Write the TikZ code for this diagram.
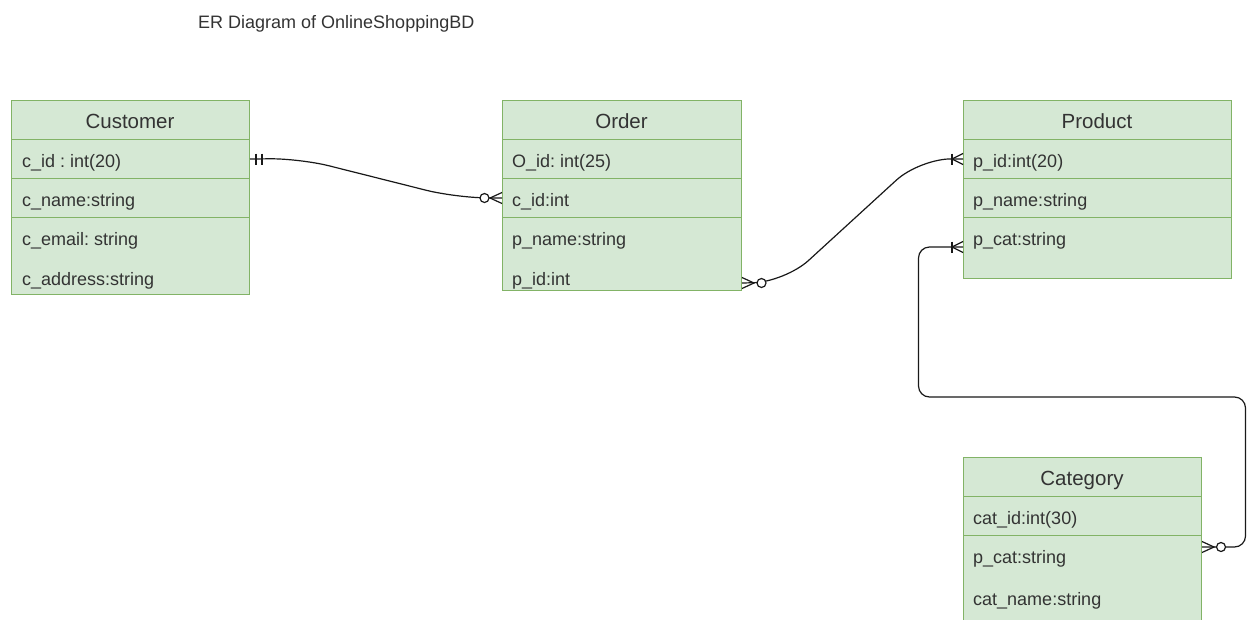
\documentclass[tikz,border=0pt]{standalone}
\usepackage{fontspec}
\setmainfont{Liberation Sans}
\usetikzlibrary{calc}
\definecolor{fillg}{HTML}{D5E8D4}
\definecolor{bordg}{HTML}{82B366}
\definecolor{txt}{HTML}{333333}
\frenchspacing
\begin{document}
\begin{tikzpicture}[x=1pt,y=-1pt,
  cell/.style={draw=bordg, fill=fillg, line width=1pt, anchor=north west, inner sep=0pt, minimum height=39pt},
  hdrtxt/.style={text=txt, font=\fontsize{20.5}{24}\selectfont, anchor=base, inner sep=0pt},
  fldtxt/.style={text=txt, font=\fontsize{18}{21}\selectfont, anchor=base west, inner sep=0pt},
  conn/.style={draw=black!90, line width=1.2pt},
  circmark/.style={draw=black!90, line width=1.2pt, fill=white}
]
\clip (0,0) rectangle (1250,619);

% title
\node[fldtxt] (title) at (198,28) {ER Diagram of OnlineShoppingBD};

% Customer
\node[cell, minimum width=238pt] (cust-h) at (11,100) {};
\node[cell, minimum width=238pt] (cust-id) at (11,139) {};
\node[cell, minimum width=238pt] (cust-name) at (11,178) {};
\node[cell, minimum width=238pt, minimum height=77pt] (cust-rest) at (11,217) {};
\node[hdrtxt] (t-cust) at (130,128) {Customer};
\node[fldtxt] (t-cid) at (22,167.5) {c\_id : int(20)};
\node[fldtxt] (t-cname) at (22,206) {c\_name:string};
\node[fldtxt] (t-cemail) at (22,245) {c\_email: string};
\node[fldtxt] (t-caddr) at (22,285.5) {c\_address:string};

% Order
\node[cell, minimum width=239pt] (ord-h) at (502,100) {};
\node[cell, minimum width=239pt] (ord-id) at (502,139) {};
\node[cell, minimum width=239pt] (ord-cid) at (502,178) {};
\node[cell, minimum width=239pt, minimum height=73pt] (ord-rest) at (502,217) {};
\node[hdrtxt] (t-ord) at (621.5,128) {Order};
\node[fldtxt] (t-oid) at (512,167.5) {O\_id: int(25)};
\node[fldtxt] (t-ocid) at (512,206) {c\_id:int};
\node[fldtxt] (t-opname) at (512,245) {p\_name:string};
\node[fldtxt] (t-opid) at (512,285.5) {p\_id:int};

% Product
\node[cell, minimum width=268pt] (prod-h) at (963,100) {};
\node[cell, minimum width=268pt] (prod-id) at (963,139) {};
\node[cell, minimum width=268pt] (prod-name) at (963,178) {};
\node[cell, minimum width=268pt, minimum height=61pt] (prod-rest) at (963,217) {};
\node[hdrtxt] (t-prod) at (1097,128) {Product};
\node[fldtxt] (t-pid) at (973,167.5) {p\_id:int(20)};
\node[fldtxt] (t-pname) at (973,206) {p\_name:string};
\node[fldtxt] (t-pcat) at (973,245) {p\_cat:string};

% Category
\node[cell, minimum width=238pt] (cat-h) at (963,457) {};
\node[cell, minimum width=238pt] (cat-id) at (963,496) {};
\node[cell, minimum width=238pt, minimum height=130pt] (cat-rest) at (963,535) {};
\node[hdrtxt] (t-cat) at (1082,485.5) {Category};
\node[fldtxt] (t-catid) at (973,524.5) {cat\_id:int(30)};
\node[fldtxt] (t-catpcat) at (973,563.5) {p\_cat:string};
\node[fldtxt] (t-catname) at (973,605) {cat\_name:string};

% connector 1: Customer.c_id -> Order.c_id
\draw[conn, rounded corners=30pt] (cust-id.east) -- (300,158.5) -- (455,197.5) -- (ord-cid.west);
\draw[conn] ($(cust-id.east)+(6,-5.5)$) -- ++(0,11);
\draw[conn] ($(cust-id.east)+(12,-5.5)$) -- ++(0,11);
\draw[conn] ($(ord-cid.west)+(0,-5.5)$) -- ($(ord-cid.west)+(-12,0)$) -- ($(ord-cid.west)+(0,5.5)$);
\draw[circmark] ($(ord-cid.west)+(-17.5,0)$) circle (4.5pt);

% connector 2: Order.p_id -> Product.p_id
\coordinate (op) at ($(ord-rest.south east)+(0,-8)$);
\draw[conn, rounded corners=32pt] (op) -- (785,282) -- (920,158.5) -- (prod-id.west);
\draw[conn] ($(op)+(0,-5.5)$) -- ($(op)+(12,0)$) -- ($(op)+(0,5.5)$);
\draw[circmark] ($(op)+(19.5,0)$) circle (4.5pt);
\draw[conn] ($(prod-id.west)+(-11,-5.5)$) -- ++(0,11);
\draw[conn] ($(prod-id.west)+(0,-5.5)$) -- ($(prod-id.west)+(-11,0)$) -- ($(prod-id.west)+(0,5.5)$);

% connector 3: Category.p_cat -> Product.p_cat
\coordinate (cp) at ($(cat-rest.north east)+(0,12)$);
\coordinate (pc) at ($(prod-rest.north west)+(0,30)$);
\draw[conn, rounded corners=11pt] (cp) -- (1245.5,547) -- (1245.5,397) -- (918.5,397) -- (918.5,247) -- (pc);
\draw[conn] ($(cp)+(0,-5.5)$) -- ($(cp)+(12,0)$) -- ($(cp)+(0,5.5)$);
\draw[circmark] ($(cp)+(19,0)$) circle (4.5pt);
\draw[conn] ($(pc)+(-11,-5.5)$) -- ++(0,11);
\draw[conn] ($(pc)+(0,-5.5)$) -- ($(pc)+(-11,0)$) -- ($(pc)+(0,5.5)$);
\end{tikzpicture}
\end{document}
